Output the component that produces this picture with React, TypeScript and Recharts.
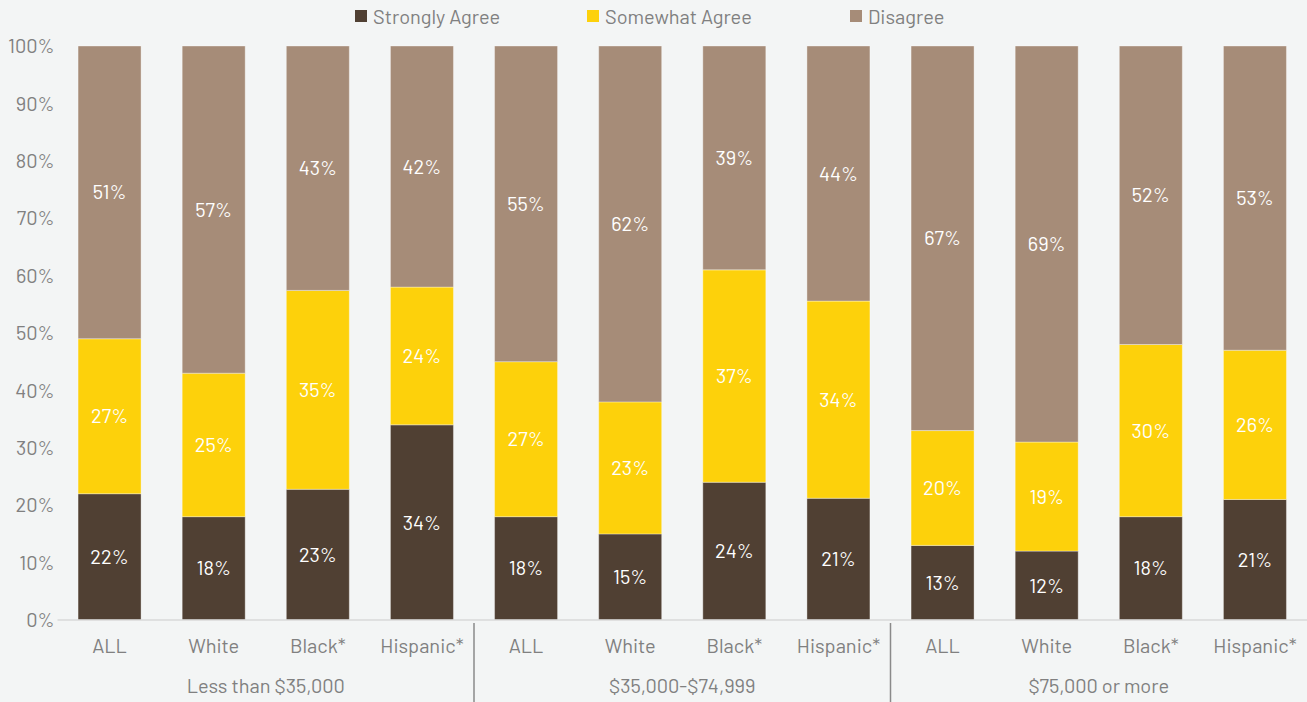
import React from 'react';
import {
  BarChart,
  Bar,
  XAxis,
  YAxis,
  Legend,
  LabelList,
  ReferenceLine,
} from 'recharts';

const categories = ['ALL', 'White', 'Black*', 'Hispanic*'];
const groups = ['Less than $35,000', '$35,000-$74,999', '$75,000 or more'];

const stronglyAgree = [22, 18, 23, 34, 18, 15, 24, 21, 13, 12, 18, 21];
const somewhatAgree = [27, 25, 35, 24, 27, 23, 37, 34, 20, 19, 30, 26];
const disagree = [51, 57, 43, 42, 55, 62, 39, 44, 67, 69, 52, 53];

const yTickValues = [0, 10, 20, 30, 40, 50, 60, 70, 80, 90, 100];

const rows = stronglyAgree.map((v, i) => {
  const g = Math.floor(i / categories.length);
  return {
    id: `${g}-${categories[i % categories.length]}`,
    category: categories[i % categories.length],
    group: groups[g],
    strong: v,
    somewhat: somewhatAgree[i],
    disagree: disagree[i],
  };
});

const W = 1307;
const H = 702;
const FONT = "Barlow, 'Roboto Condensed', Roboto, 'Noto Sans', sans-serif";
const GRAY = '#808080';

const series = [
  { key: 'strong', name: 'Strongly Agree', color: '#504033', slot: 232 },
  { key: 'somewhat', name: 'Somewhat Agree', color: '#fdd10b', slot: 263 },
  { key: 'disagree', name: 'Disagree', color: '#a68c78', slot: 120 },
];

const renderLegend = () => (
  <div
    style={{
      height: 32,
      display: 'flex',
      alignItems: 'center',
      paddingLeft: 355,
      fontFamily: FONT,
      fontSize: 20,
      color: GRAY,
    }}
  >
    {series.map((s) => (
      <div key={s.key} style={{ display: 'flex', alignItems: 'center', width: s.slot }}>
        <span style={{ width: 12, height: 12, background: s.color, marginRight: 6, display: 'inline-block' }} />
        <span>{s.name}</span>
      </div>
    ))}
  </div>
);

const Divider = (props: any) => (
  <line x1={props.x1} x2={props.x2} y1={props.y1 + 3} y2={H} stroke="#8a8a8a" strokeWidth={1.5} />
);

export default function App() {
  return (
    <div style={{ position: 'absolute', left: 0, top: 0, width: W, height: H, background: '#f3f5f5' }}>
      <BarChart
        width={W}
        height={H}
        data={rows}
        stackOffset="expand"
        barCategoryGap="19.75%"
        margin={{ top: 14, right: 0, left: 0, bottom: 0 }}
      >
        <Legend verticalAlign="top" content={renderLegend} wrapperStyle={{ top: 0, left: 0 }} />
        <XAxis
          dataKey="id"
          tickFormatter={(id: string) => id.split('-').slice(1).join('-')}
          axisLine={{ stroke: '#d9d9d9', strokeWidth: 1.5 }}
          tickLine={false}
          tickSize={0}
          tickMargin={19}
          height={50}
          interval={0}
          tick={{ fill: GRAY, fontSize: 20, fontFamily: FONT }}
        />
        <XAxis
          xAxisId="group"
          dataKey="group"
          allowDuplicatedCategory={false}
          axisLine={false}
          tickLine={false}
          tickSize={0}
          tickMargin={9}
          height={32}
          interval={0}
          tick={{ fill: GRAY, fontSize: 20, fontFamily: FONT }}
        />
        <YAxis
          width={57.5}
          domain={[0, 1]}
          ticks={yTickValues.map((v) => v / 100)}
          tickFormatter={(v: number) => `${Math.round(v * 100)}%`}
          axisLine={false}
          tickLine={false}
          tickSize={0}
          tickMargin={3}
          tick={{ fill: GRAY, fontSize: 20, fontFamily: FONT }}
        />
        {series.map((s) => (
          <Bar
            key={s.key}
            dataKey={s.key}
            name={s.name}
            stackId="a"
            fill={s.color}
            stroke="#ffffff"
            strokeOpacity={0.35}
            strokeWidth={1}
            isAnimationActive={false}
          >
            <LabelList
              dataKey={s.key}
              position="center"
              formatter={(v: any) => `${v}%`}
              fill="#ffffff"
              fontSize={20}
              fontFamily={FONT}
            />
          </Bar>
        ))}
        <ReferenceLine x={rows[3].id} position="end" shape={Divider} ifOverflow="visible" />
        <ReferenceLine x={rows[7].id} position="end" shape={Divider} ifOverflow="visible" />
      </BarChart>
    </div>
  );
}
